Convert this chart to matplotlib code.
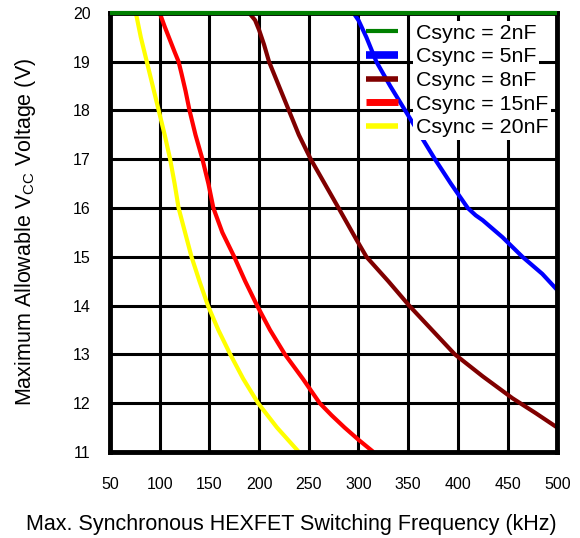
import matplotlib
matplotlib.use("Agg")
import matplotlib.pyplot as plt

plt.rcParams["font.family"] = ["Liberation Sans", "DejaVu Sans"]
plt.rcParams["mathtext.default"] = "regular"

# values (kHz, V)
f_2nf = [50, 500]
v_2nf = [20, 20]

f_5nf = [295, 300, 308, 318, 332, 347, 362, 377, 393, 410, 418, 425, 445, 465, 485, 500]
v_5nf = [20, 19.85, 19.5, 19, 18.5, 18, 17.5, 17, 16.5, 16, 15.85, 15.75, 15.4, 15, 14.65, 14.32]

f_8nf = [190, 196, 200, 205, 210, 220, 230, 240, 252, 266, 280, 298, 308, 330, 351,
         374, 397, 425, 455, 478, 500]
v_8nf = [20, 19.85, 19.65, 19.35, 19, 18.5, 18, 17.5, 17, 16.5, 16, 15.35, 15, 14.5, 14,
         13.5, 13, 12.55, 12.1, 11.8, 11.5]

f_15nf = [100, 105, 110, 115, 119, 122, 126, 130, 136, 143, 149, 154, 163, 175, 186, 198,
          211, 226, 244, 261, 273, 286, 300, 315]
v_15nf = [20, 19.72, 19.46, 19.2, 19, 18.75, 18.4, 18, 17.5, 17, 16.5, 16, 15.5, 15, 14.5,
          14, 13.5, 13, 12.5, 12, 11.75, 11.5, 11.25, 11]

f_20nf = [76, 81, 87, 93, 99, 105, 110.5, 115, 119, 125.5, 132, 140, 148.5, 159, 171,
          184, 199, 218, 240]
v_20nf = [20, 19.5, 19, 18.5, 18, 17.5, 17, 16.5, 16, 15.5, 15, 14.5, 14, 13.5, 13,
          12.5, 12, 11.5, 11]

labels = ["Csync = 2nF", "Csync = 5nF", "Csync = 8nF", "Csync = 15nF", "Csync = 20nF"]
colors = ["#008000", "#0000ff", "#800000", "#ff0000", "#ffff00"]

x_ticks = list(range(50, 501, 50))
y_ticks = list(range(11, 21))

fig = plt.figure(figsize=(5.8, 5.38), dpi=100)
ax = fig.add_axes([0.1897, 0.160, 0.771, 0.816])

series = [(f_2nf, v_2nf), (f_5nf, v_5nf), (f_8nf, v_8nf), (f_15nf, v_15nf), (f_20nf, v_20nf)]
for i, ((f, v), lbl, c) in enumerate(zip(series, labels, colors)):
    ax.plot(f, v, color=c, lw=3, label=lbl, solid_capstyle="butt",
            solid_joinstyle="round", clip_on=(i != 0), zorder=3 if i == 0 else 2)

ax.set_xlim(50, 500)
ax.set_ylim(11, 20)
ax.set_xticks(x_ticks)
ax.set_yticks(y_ticks)
ax.set_axisbelow(True)
ax.grid(True, color="black", lw=2.2)
for s in ax.spines.values():
    s.set_linewidth(3.5)
ax.tick_params(axis="x", length=0, pad=18, labelsize=11.5)
ax.tick_params(axis="y", length=0, pad=14, labelsize=11.5)

ax.set_xlabel("Max. Synchronous HEXFET Switching Frequency (kHz)", fontsize=15.5)
ax.xaxis.set_label_coords(0.405, -0.142)
ax.set_ylabel("Maximum Allowable V$_{CC}$ Voltage (V)", fontsize=15.5)
ax.yaxis.set_label_coords(-0.161, 0.5)

leg = ax.legend(loc="upper right", frameon=False, fontsize=15.4, handlelength=1.5,
                handletextpad=0.84, labelspacing=0.22, borderaxespad=0.0,
                bbox_to_anchor=(1.0, 0.995))
for t in leg.get_texts():
    t.set_bbox(dict(facecolor="white", edgecolor="none", pad=2.0))
for h, w in zip(leg.get_lines(), [3, 5.5, 4, 5, 4]):
    h.set_linewidth(w)

fig.savefig("out.png", dpi=100)
